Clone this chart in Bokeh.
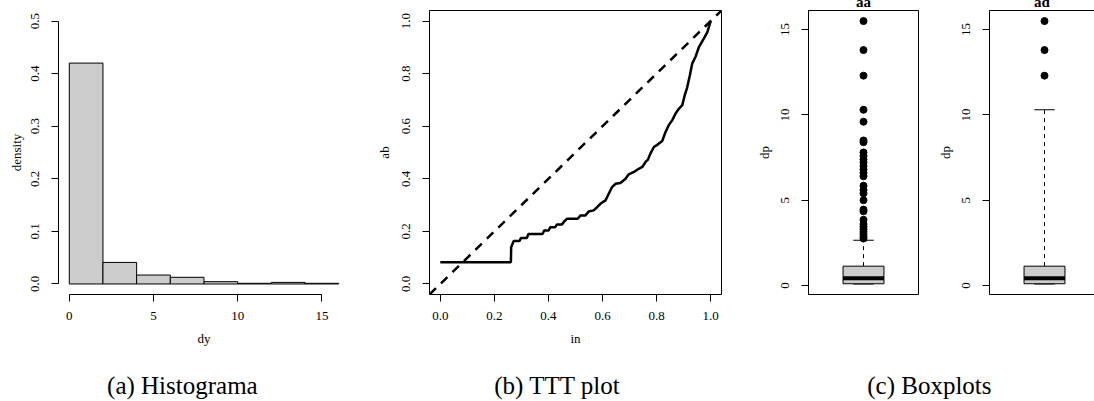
from bokeh.plotting import figure
from bokeh.layouts import column, row
from bokeh.models import Range1d, FixedTicker, PrintfTickFormatter, Slope, LinearAxis
from bokeh.core.properties import value
from bokeh.embed import file_html
from bokeh.resources import INLINE

SERIF = "Liberation Serif"

# ---------------- data ----------------
hist_left = [0, 2, 4, 6, 8, 10, 12, 14]
hist_right = [2, 4, 6, 8, 10, 12, 14, 16]
hist_density = [0.42, 0.041, 0.017, 0.0127, 0.0044, 0.0013, 0.003, 0.0013]
hist_xticks = [0, 5, 10, 15]
hist_yticks = [0.0, 0.1, 0.2, 0.3, 0.4, 0.5]

ttt_x = [0.0, 0.261, 0.262, 0.271, 0.293, 0.298, 0.32, 0.326, 0.378, 0.384, 0.40, 0.407,
         0.425, 0.431, 0.45, 0.456, 0.468, 0.508, 0.518, 0.536, 0.549, 0.567, 0.58, 0.592,
         0.611, 0.623, 0.635, 0.648, 0.666, 0.685, 0.697, 0.716, 0.734, 0.747, 0.759, 0.768,
         0.777, 0.79, 0.805, 0.821, 0.833, 0.845, 0.858, 0.87, 0.883, 0.895, 0.904, 0.913,
         0.923, 0.932, 0.944, 0.957, 0.975, 0.988, 1.0]
ttt_y = [0.083, 0.083, 0.14, 0.163, 0.163, 0.175, 0.175, 0.19, 0.19, 0.203, 0.203, 0.216,
         0.216, 0.226, 0.226, 0.235, 0.248, 0.248, 0.26, 0.26, 0.276, 0.28, 0.292, 0.305,
         0.318, 0.343, 0.368, 0.381, 0.384, 0.40, 0.417, 0.426, 0.438, 0.445, 0.464, 0.473,
         0.496, 0.521, 0.531, 0.544, 0.578, 0.604, 0.623, 0.648, 0.667, 0.68, 0.718, 0.747,
         0.794, 0.839, 0.864, 0.902, 0.934, 0.959, 1.0]
ttt_ticks = [0.0, 0.2, 0.4, 0.6, 0.8, 1.0]

box_names = ["aa", "ad"]
box_lower = [0.09, 0.09]
box_q1 = [0.10, 0.10]
box_median = [0.43, 0.43]
box_q3 = [1.13, 1.13]
box_upper = [2.65, 10.3]
box_outliers = [
    [15.5, 13.8, 12.3, 10.3, 9.6, 8.5, 8.4, 7.8, 7.6, 7.4, 7.2, 7.0, 6.8, 6.6, 6.4,
     5.85, 5.6, 5.4, 5.0, 4.45, 4.35, 3.85, 3.6, 3.45, 3.3, 3.15, 3.0, 2.85, 2.75],
    [15.5, 13.8, 12.3],
]
box_yticks = [0, 5, 10, 15]

captions = ["(a)  Histograma", "(b)  TTT plot", "(c)  Boxplots"]

# ---------------- layout constants ----------------
LIFT = 24          # whole page lifted so the boxplot titles sit cut at the page top
FIG_H = 360 + LIFT
TOP = 10 + LIFT
BOTTOM = 66
BOX_HALF = 0.186
CAP_HALF = 0.093
caption_x = [185, 560, 932]
caption_y = [16, 16, 16]


def style_axis(ax, ticks, fmt=None, bounds=None, label="", als=6, vertical=False):
    ax.ticker = FixedTicker(ticks=ticks)
    if fmt:
        ax.formatter = PrintfTickFormatter(format=fmt)
    if bounds is not None:
        ax.bounds = bounds
    ax.axis_label = label
    ax.axis_label_text_font = SERIF
    ax.axis_label_text_font_size = "13px"
    ax.axis_label_text_font_style = "normal"
    ax.axis_label_text_color = "black"
    ax.axis_label_standoff = als
    ax.major_label_text_font = SERIF
    ax.major_label_text_font_size = "13px"
    ax.major_label_text_color = "black"
    ax.major_label_standoff = 12 if vertical else 10
    ax.major_tick_out = 7
    ax.major_tick_in = 0
    ax.minor_tick_out = 0
    ax.minor_tick_in = 0
    ax.axis_line_color = "black"
    ax.major_tick_line_color = "black"
    if vertical:
        ax.major_label_orientation = "vertical"
    return ax


def make_fig(width, xr, yr, left, right, outline=True):
    p = figure(width=width, height=FIG_H, x_range=xr, y_range=yr,
               output_backend="svg", toolbar_location=None,
               min_border_left=left, min_border_right=right,
               min_border_top=TOP, min_border_bottom=BOTTOM,
               x_axis_type=None, y_axis_type=None)
    p.outline_line_color = "black" if outline else None
    p.background_fill_color = "white"
    p.border_fill_color = "white"
    return p


# ---------------- (a) histogram ----------------
pa = make_fig(369, Range1d(-0.64, 16.64), Range1d(-0.02, 0.52), 58, 20, outline=False)
pa.quad(left=hist_left, right=hist_right, top=hist_density, bottom=0,
        fill_color="#CCCCCC", line_color="black", line_width=1)
pa.add_layout(style_axis(LinearAxis(), hist_yticks, "%.1f", (0, 0.5), "density", als=5, vertical=True), "left")
pa.add_layout(style_axis(LinearAxis(), hist_xticks, None, (0, 15), "dy", als=8), "below")

# ---------------- (b) TTT plot ----------------
pb = make_fig(379, Range1d(-0.04, 1.04), Range1d(-0.04, 1.04), 60, 27)
pb.add_layout(Slope(gradient=1, y_intercept=0, line_color="black", line_width=2.5, line_dash="9 7"))
pb.line(ttt_x, ttt_y, line_color="black", line_width=2.5)
pb.add_layout(style_axis(LinearAxis(), ttt_ticks, "%.1f", (0, 1), "ab", als=8, vertical=True), "left")
pb.add_layout(style_axis(LinearAxis(), ttt_ticks, "%.1f", (0, 1), "in", als=8), "below")


# ---------------- (c) boxplots ----------------
def boxplot(p, i):
    c = 1.0
    p.segment(x0=[c], y0=[box_q3[i]], x1=[c], y1=[box_upper[i]], line_color="black", line_width=1, line_dash="4 4")
    p.segment(x0=[c], y0=[box_lower[i]], x1=[c], y1=[box_q1[i]], line_color="black", line_width=1, line_dash="4 4")
    p.segment(x0=[c - CAP_HALF], y0=[box_upper[i]], x1=[c + CAP_HALF], y1=[box_upper[i]], line_color="black", line_width=1.2)
    p.segment(x0=[c - CAP_HALF], y0=[box_lower[i]], x1=[c + CAP_HALF], y1=[box_lower[i]], line_color="black", line_width=1.2)
    p.quad(left=[c - BOX_HALF], right=[c + BOX_HALF], bottom=[box_q1[i]], top=[box_q3[i]],
           fill_color="#CCCCCC", line_color="black", line_width=1)
    p.segment(x0=[c - BOX_HALF], y0=[box_median[i]], x1=[c + BOX_HALF], y1=[box_median[i]],
              line_color="black", line_width=4, line_cap="butt")
    p.scatter(x=[c] * len(box_outliers[i]), y=box_outliers[i], size=7,
              fill_color="black", line_color="black", marker="circle")
    p.add_layout(style_axis(LinearAxis(), box_yticks, None, None, "dp", als=7, vertical=True), "left")
    p.title.text = box_names[i]
    p.title.align = "center"
    p.title.text_font = SERIF
    p.title.text_font_style = "bold"
    p.title.text_font_size = "15px"
    p.title.text_color = "black"
    p.title.standoff = 2


BY = (-0.53, 16.12)
pc1 = make_fig(181, Range1d(0.5, 1.5), Range1d(*BY), 60, 11)
boxplot(pc1, 0)

pc2 = make_fig(165, Range1d(0.5, 1.4545), Range1d(*BY), 60, 0, outline=False)
for loc in ("above", "below"):
    ax = LinearAxis(ticker=FixedTicker(ticks=[]), major_tick_out=0, major_tick_in=0,
                    minor_tick_out=0, minor_tick_in=0, major_label_standoff=0,
                    major_label_text_font_size="0px", axis_line_color="black")
    pc2.add_layout(ax, loc)
boxplot(pc2, 1)
pc2.title.offset = 2

# ---------------- captions ----------------
pcap = figure(width=1094, height=41, x_range=Range1d(0, 1094), y_range=Range1d(0, 41),
              output_backend="svg", toolbar_location=None, min_border=0,
              x_axis_type=None, y_axis_type=None)
pcap.outline_line_color = None
pcap.text(x=caption_x, y=caption_y, text=captions, text_font=value(SERIF), text_font_size="25px",
          text_align="center", text_baseline="alphabetic", text_color="black")

layout = column(row(pa, pb, pc1, pc2, spacing=0), pcap, spacing=0, margin=(-LIFT, 0, 0, 0))
open("out.html", "w").write(file_html(layout, INLINE))
